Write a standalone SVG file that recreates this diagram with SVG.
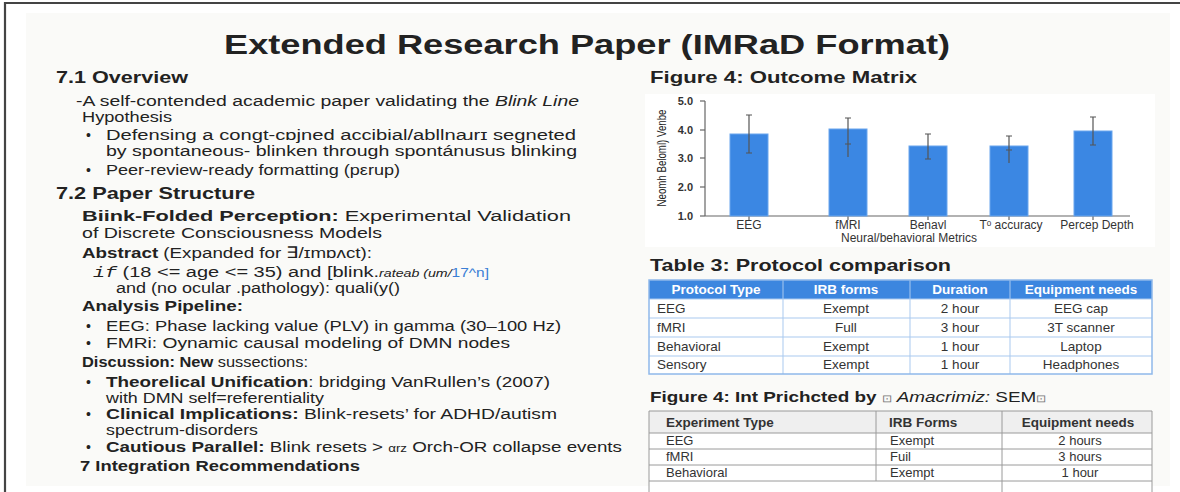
<svg xmlns="http://www.w3.org/2000/svg" width="1180" height="492" viewBox="0 0 1180 492">
<style>
text{font-family:"Liberation Sans",Arial,sans-serif;fill:#222}
.h{font-weight:bold;font-size:17px}
.b{font-size:15.5px}
.bb{font-weight:bold}
.it{font-style:italic}
.bul{font-size:14px}
.ytk{font-size:11px;font-weight:bold;fill:#333;text-anchor:end}
.xl{font-size:12px;fill:#333;text-anchor:middle}
.th{font-size:13.5px;font-weight:bold;fill:#fff;text-anchor:middle}
.td{font-size:13.5px;fill:#333}
.tc{text-anchor:middle}
.t2h{font-size:13.5px;font-weight:bold;fill:#333}
.t2{font-size:13px;fill:#333}
.bar{fill:#3b87e3;stroke:#6aa6ee;stroke-width:1}
.err{stroke:#555;stroke-width:1.2;fill:none}
.g3{stroke:#a9c9ef;stroke-width:1;fill:none}
.g2{stroke:#9a9a9a;stroke-width:1;fill:none}
</style>
<rect width="1180" height="492" fill="#ffffff"/>
<rect x="26" y="13" width="1144" height="473" fill="#fafaf8"/>
<path d="M5 492 V3 H1180" fill="none" stroke="#444" stroke-width="2.2"/>

<g id="title">
<text x="587" y="54" text-anchor="middle" font-size="27" font-weight="bold" textLength="726" lengthAdjust="spacingAndGlyphs">Extended Research Paper (IMRaD Format)</text>
</g>

<g id="overview">
<text class="h" x="56" y="83" textLength="132" lengthAdjust="spacingAndGlyphs">7.1 Overview</text>
<text class="b" x="76" y="106" textLength="503" lengthAdjust="spacingAndGlyphs">-A self-contended academic paper validating the <tspan class="it">Blink Line</tspan></text>
<text class="b" x="82" y="122" textLength="90" lengthAdjust="spacingAndGlyphs">Hypothesis</text>
<text class="bul" x="86" y="140">•</text>
<text class="b" x="106" y="140" textLength="470" lengthAdjust="spacingAndGlyphs">Defensing a congt-cɒjned accibial/abllnaɹrɪ segneted</text>
<text class="b" x="106" y="156" textLength="471" lengthAdjust="spacingAndGlyphs">by spontaneous- blinken through spontánusus blinking</text>
<text class="bul" x="86" y="175">•</text>
<text class="b" x="106" y="175" textLength="294" lengthAdjust="spacingAndGlyphs">Peer-review-ready formatting  (pεrup)</text>
</g>

<g id="structure">
<text class="h" x="56" y="199" textLength="199" lengthAdjust="spacingAndGlyphs">7.2 Paper Structure</text>
<text class="b" x="82" y="221" font-size="16" textLength="489" lengthAdjust="spacingAndGlyphs"><tspan class="bb">Biink-Folded Perception:</tspan> Experimental Validation</text>
<text class="b" x="82" y="238" font-size="16" textLength="300" lengthAdjust="spacingAndGlyphs">of Discrete Consciousness Models</text>
<text class="b" x="82" y="258" textLength="290" lengthAdjust="spacingAndGlyphs"><tspan class="bb">Abstract</tspan>  (Expanded for ∃/ɪmɒʌct):</text>
<text class="b" x="93" y="277" textLength="396" lengthAdjust="spacingAndGlyphs"><tspan font-family="Liberation Mono,monospace" font-style="italic">if</tspan> (18 &lt;= age &lt;= 35) and [blink.<tspan class="it" font-size="11">rateab (um/</tspan><tspan fill="#3b7fd6" font-size="12">17^n]</tspan></text>
<text class="b" x="116" y="293" textLength="284" lengthAdjust="spacingAndGlyphs">and (no ocular .pathology):  quali(y()</text>
<text class="b bb" x="82" y="311" textLength="161" lengthAdjust="spacingAndGlyphs">Analysis Pipeline:</text>
<text class="bul" x="86" y="331">•</text>
<text class="b" x="106" y="331" textLength="455" lengthAdjust="spacingAndGlyphs">EEG: Phase lacking value (PLV) in gamma (30–100 Hz)</text>
<text class="bul" x="86" y="348">•</text>
<text class="b" x="106" y="348" textLength="404" lengthAdjust="spacingAndGlyphs">FMRi: Oynamic causal modeling of DMN nodes</text>
<text class="b" x="82" y="367" textLength="226" lengthAdjust="spacingAndGlyphs"><tspan class="bb">Discussion: New</tspan> sussections:</text>
<text class="bul" x="86" y="387">•</text>
<text class="b" x="106" y="387" textLength="444" lengthAdjust="spacingAndGlyphs"><tspan class="bb">Theorelical Unification</tspan>:  bridging VanRullen’s (2007)</text>
<text class="b" x="106" y="403" textLength="218" lengthAdjust="spacingAndGlyphs">with DMN self=referentiality</text>
<text class="bul" x="86" y="419">•</text>
<text class="b" x="106" y="419" textLength="451" lengthAdjust="spacingAndGlyphs"><tspan class="bb">Clinical Implications:</tspan> Blink-resets’ for ADHD/autism</text>
<text class="b" x="106" y="435" textLength="152" lengthAdjust="spacingAndGlyphs">spectrum-disorders</text>
<text class="bul" x="86" y="452">•</text>
<text class="b" x="106" y="452" textLength="516" lengthAdjust="spacingAndGlyphs"><tspan class="bb">Cautious Parallel:</tspan> Blink resets &gt; <tspan font-size="11">αrz</tspan> Orch-OR collapse events</text>
<text class="b bb" x="80" y="471" textLength="280" lengthAdjust="spacingAndGlyphs">7 Integration Recommendations</text>
</g>

<g id="figure4-chart">
<text class="h" x="650" y="83" textLength="267" lengthAdjust="spacingAndGlyphs">Figure 4: Outcome Matrix</text>
<rect x="645" y="94" width="510" height="153" fill="#ffffff"/>
<text x="666" y="158" font-size="12" fill="#333" text-anchor="middle" transform="rotate(-90 666 158)" textLength="97" lengthAdjust="spacingAndGlyphs">Neomh Beloml) Venbe</text>
<g stroke="#666" stroke-width="1.2">
<line x1="705" y1="101" x2="705" y2="216"/>
<line x1="705" y1="216" x2="1130" y2="216"/>
<line x1="700" y1="101" x2="705" y2="101"/>
<line x1="700" y1="130" x2="705" y2="130"/>
<line x1="700" y1="158" x2="705" y2="158"/>
<line x1="700" y1="187" x2="705" y2="187"/>
<line x1="700" y1="216" x2="705" y2="216"/>
<line x1="749" y1="216" x2="749" y2="220"/>
<line x1="848" y1="216" x2="848" y2="220"/>
<line x1="928" y1="216" x2="928" y2="220"/>
<line x1="1009" y1="216" x2="1009" y2="220"/>
<line x1="1093" y1="216" x2="1093" y2="220"/>
</g>
<text class="ytk" x="693" y="105">5.0</text>
<text class="ytk" x="693" y="134">4.0</text>
<text class="ytk" x="693" y="162">3.0</text>
<text class="ytk" x="693" y="191">2.0</text>
<text class="ytk" x="693" y="220">1.0</text>
<rect class="bar" x="730" y="134" width="38" height="82"/>
<rect class="bar" x="829" y="129" width="38" height="87"/>
<rect class="bar" x="909" y="146" width="38" height="70"/>
<rect class="bar" x="990" y="146" width="38" height="70"/>
<rect class="bar" x="1074" y="131" width="38" height="85"/>
<path class="err" d="M749 115V153M746 115H752M746 153H752"/>
<path class="err" d="M848 118V157M845 118H851M845 144H851"/>
<path class="err" d="M928 134V159M925 134H931M925 159H931"/>
<path class="err" d="M1009 136V163M1006 136H1012M1006 150H1012"/>
<path class="err" d="M1093 117V145M1090 117H1096M1090 145H1096"/>
<text class="xl" x="749" y="229">EEG</text>
<text class="xl" x="848" y="229">fMRI</text>
<text class="xl" x="928" y="229">Benavl</text>
<text class="xl" x="1011" y="229">Tᵒ accuracy</text>
<text class="xl" x="1097" y="229">Percep Depth</text>
<text class="xl" x="909" y="242" font-size="12.5">Neural/behavioral Metrics</text>
</g>

<g id="table3">
<text class="h" x="650" y="271" font-size="17.5" textLength="301" lengthAdjust="spacingAndGlyphs">Table 3: Protocol comparison</text>
<rect x="649" y="280" width="503" height="19" fill="#3c86df"/>
<rect x="649" y="299" width="503" height="75" fill="#ffffff"/>
<path class="g3" d="M649 299H1152M649 318H1152M649 337H1152M649 356H1152M783 280V374M910 280V374M1010 280V374"/>
<rect x="649" y="280" width="503" height="94" fill="none" stroke="#8fb8ea" stroke-width="1.5"/>
<text class="th" x="716" y="294">Protocol Type</text>
<text class="th" x="846" y="294">IRB forms</text>
<text class="th" x="960" y="294">Duration</text>
<text class="th" x="1081" y="294">Equipment needs</text>
<text class="td" x="657" y="313">EEG</text>
<text class="td tc" x="846" y="313">Exempt</text>
<text class="td tc" x="960" y="313">2 hour</text>
<text class="td tc" x="1081" y="313">EEG cap</text>
<text class="td" x="657" y="332">fMRI</text>
<text class="td tc" x="846" y="332">Full</text>
<text class="td tc" x="960" y="332">3 hour</text>
<text class="td tc" x="1081" y="332">3T scanner</text>
<text class="td" x="657" y="351">Behavioral</text>
<text class="td tc" x="846" y="351">Exempt</text>
<text class="td tc" x="960" y="351">1 hour</text>
<text class="td tc" x="1081" y="351">Laptop</text>
<text class="td" x="657" y="369">Sensory</text>
<text class="td tc" x="846" y="369">Exempt</text>
<text class="td tc" x="960" y="369">1 hour</text>
<text class="td tc" x="1081" y="369">Headphones</text>
</g>

<g id="figure4b-table">
<text x="650" y="402" font-size="15.5" textLength="396" lengthAdjust="spacingAndGlyphs"><tspan class="bb">Figure 4:</tspan> <tspan font-weight="bold">Int Prichcted by</tspan> <tspan font-size="10" fill="#777">⊡</tspan> <tspan class="it">Amacrimiz:</tspan> SEM<tspan font-size="10" fill="#777">⊡</tspan></text>
<rect x="649" y="411" width="503" height="22" fill="#efefef"/>
<rect x="649" y="433" width="503" height="59" fill="#ffffff"/>
<path class="g2" d="M649 411H1152M649 433H1152M649 449H1152M649 465H1152M649 481H1152M649 411V492M1152 411V492M876 411V481M1002 411V492"/>
<text class="t2h" x="666" y="427">Experiment Type</text>
<text class="t2h" x="889" y="427">IRB Forms</text>
<text class="t2h" x="1078" y="427" text-anchor="middle">Equipment needs</text>
<text class="t2" x="666" y="445">EEG</text>
<text class="t2" x="890" y="445">Exempt</text>
<text class="t2" x="1080" y="445" text-anchor="middle">2 hours</text>
<text class="t2" x="666" y="461">fMRI</text>
<text class="t2" x="890" y="461">Fuil</text>
<text class="t2" x="1080" y="461" text-anchor="middle">3 hours</text>
<text class="t2" x="666" y="477">Behavioral</text>
<text class="t2" x="890" y="477">Exempt</text>
<text class="t2" x="1080" y="477" text-anchor="middle">1 hour</text>
</g>
</svg>
